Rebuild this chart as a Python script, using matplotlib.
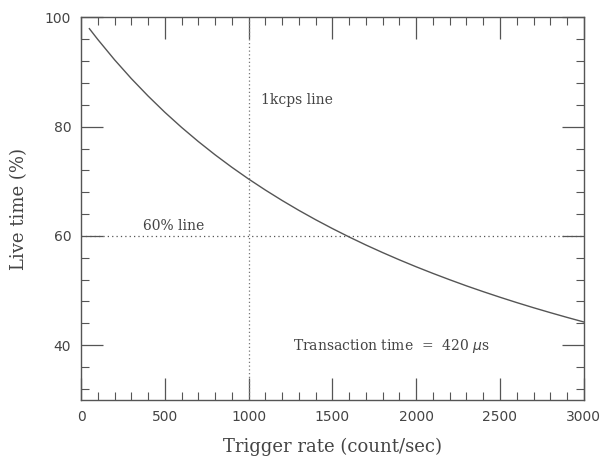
import matplotlib
matplotlib.use("Agg")
import matplotlib.pyplot as plt
from matplotlib.ticker import MultipleLocator

# trigger rate (count/sec) and live time (%)
rate = [50, 100, 200, 300, 400, 500, 600, 700, 800, 900, 1000,
        1100, 1200, 1300, 1400, 1500, 1600, 1700, 1800, 1900, 2000,
        2100, 2200, 2300, 2400, 2500, 2600, 2700, 2800, 2900, 3000]
live = [97.94, 95.97, 92.25, 88.81, 85.62, 82.64, 79.87, 77.28, 74.85, 72.57, 70.42,
        68.40, 66.49, 64.68, 62.97, 61.35, 59.81, 58.34, 56.95, 55.62, 54.35,
        53.14, 51.98, 50.86, 49.80, 48.78, 47.80, 46.86, 45.96, 45.09, 44.25]

kcps_line = 1000
pct_line = 60

ink = "#444444"
serif = "DejaVu Serif"

fig = plt.figure(figsize=(6.0, 4.58), dpi=100)
ax = fig.add_axes([0.135, 0.127, 0.838, 0.835])

ax.plot(rate, live, color="#555555", lw=1.0)
ax.axvline(kcps_line, color="#777777", lw=0.9, ls=(0, (1, 2)))
ax.axhline(pct_line, color="#555555", lw=0.9, ls=(0, (1, 2.5)))

ax.text(1073, 84.9, "1kcps line", fontsize=10, family=serif, color=ink, va="center")
ax.text(370, 61.8, "60% line", fontsize=10, family=serif, color=ink, va="center")
ax.text(1265, 39.8, r"Transaction time  =  420 $\mu$s", fontsize=10, family=serif,
        color=ink, va="center")

ax.set_xlim(0, 3000)
ax.set_ylim(30, 100)
ax.xaxis.set_major_locator(MultipleLocator(500))
ax.xaxis.set_minor_locator(MultipleLocator(100))
ax.yaxis.set_major_locator(MultipleLocator(20))
ax.yaxis.set_minor_locator(MultipleLocator(4))
ax.tick_params(which="both", direction="in", top=True, right=True, color="#555555",
               labelcolor=ink, labelsize=10)
ax.tick_params(which="major", length=16, width=0.9, pad=7)
ax.tick_params(which="minor", length=6, width=0.8)
for s in ax.spines.values():
    s.set_color("#555555")
    s.set_linewidth(1.0)

ax.set_xlabel("Trigger rate (count/sec)", fontsize=13, family=serif, color=ink, labelpad=10)
ax.set_ylabel("Live time (%)", fontsize=13, family=serif, color=ink, labelpad=12)

fig.savefig("out.png", dpi=100)
